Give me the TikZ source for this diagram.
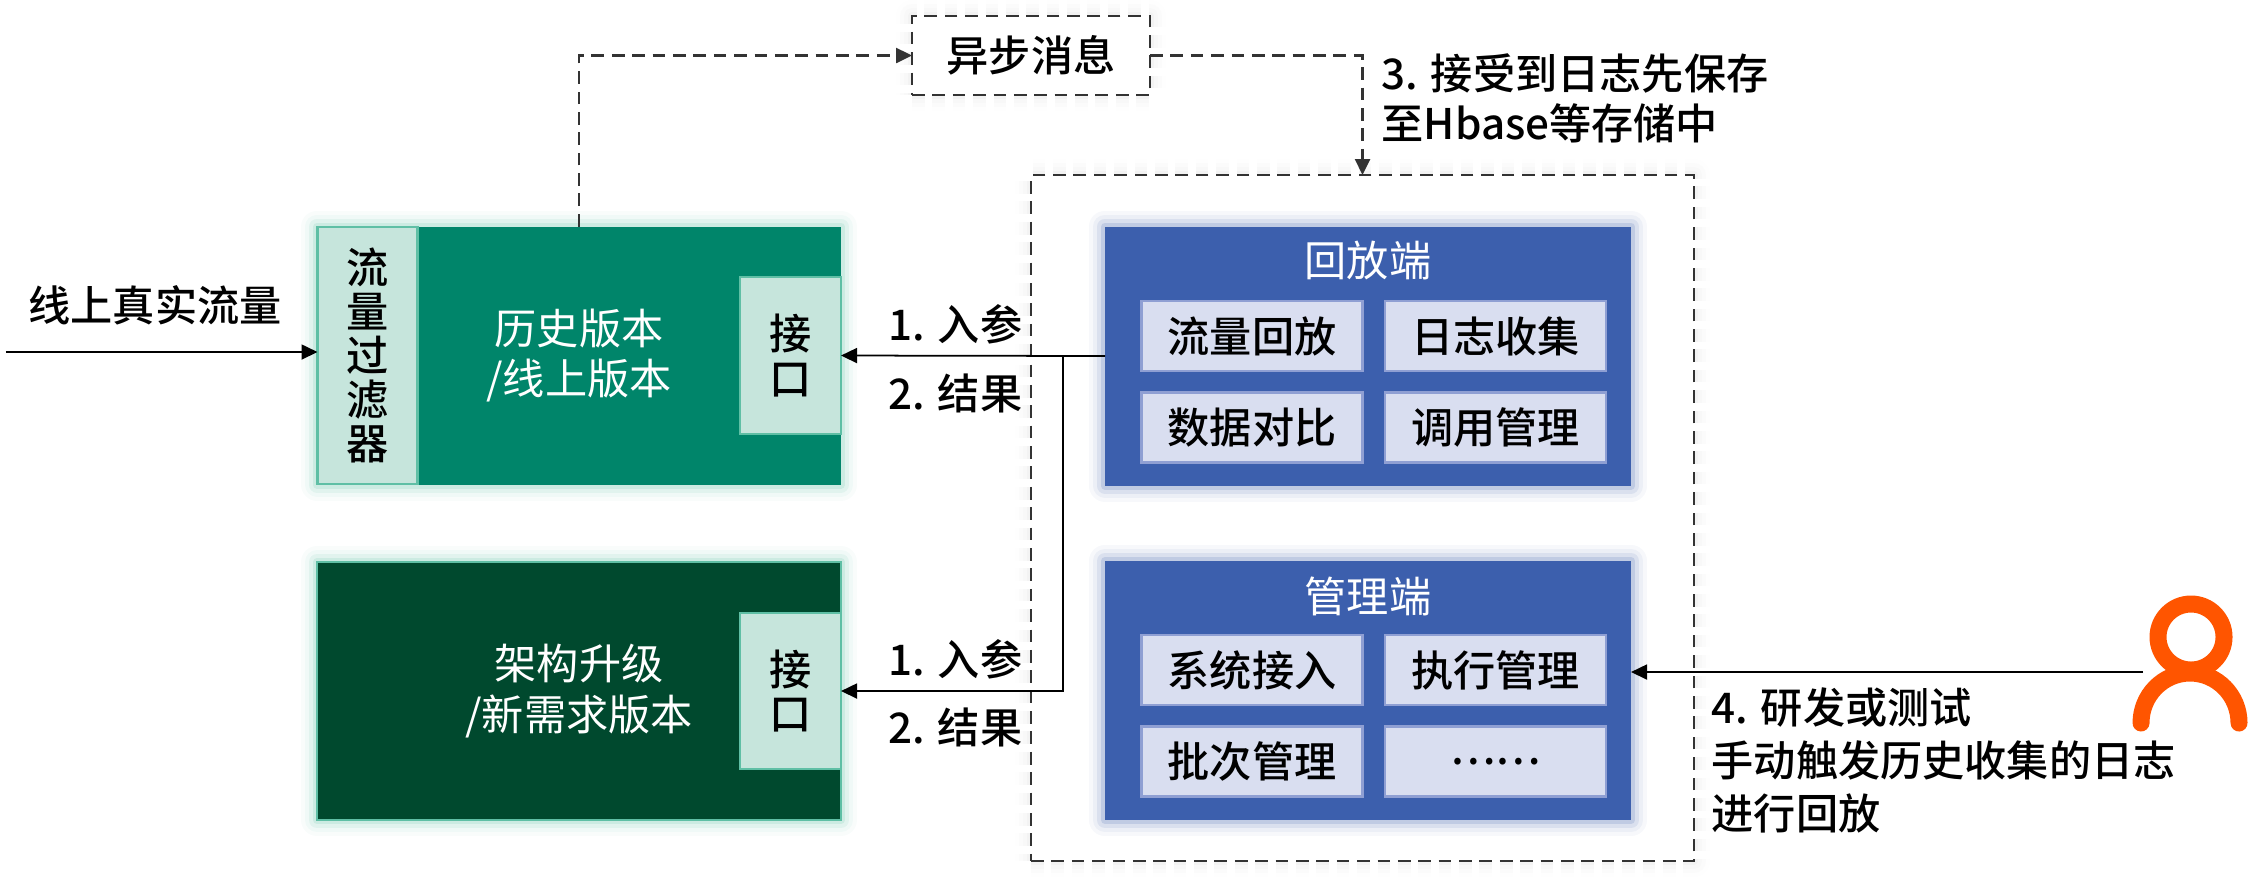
\documentclass[tikz,border=0pt]{standalone}
\usepackage{fontspec}
\setmainfont{Noto Sans CJK SC Medium}
\newfontfamily\whitefont{Noto Sans CJK SC}
\usetikzlibrary{positioning,arrows.meta}
\definecolor{oldgreen}{HTML}{00856A}
\definecolor{newgreen}{HTML}{00492E}
\definecolor{palegreen}{HTML}{C6E5DC}
\definecolor{edgegreen}{HTML}{5FBFA5}
\definecolor{sideblue}{HTML}{3C5FAD}
\definecolor{paleblue}{HTML}{D9DEF0}
\definecolor{edgeblue}{HTML}{8F9FD3}
\definecolor{userorange}{HTML}{FF5500}

\begin{document}
\begin{tikzpicture}[
  >={Triangle[length=1.6mm,width=1.5mm]},
  glow/.style={preaction={draw=#1, opacity=.04, line width=3.2mm, line join=round},
    preaction={draw=#1, opacity=.06, line width=2.4mm, line join=round},
    preaction={draw=#1, opacity=.10, line width=1.6mm, line join=round},
    preaction={draw=#1, opacity=.16, line width=0.8mm, line join=round}},
  txt/.style={font=\fontsize{12}{14.3}\selectfont, align=left, inner sep=0pt},
  ver/.style={inner sep=0pt, outer sep=0pt, minimum width=5.24cm, minimum height=2.58cm, align=center,
    text=white, font=\fontsize{12}{14.3}\selectfont\whitefont},
  pale/.style={draw=edgegreen, line width=0.6pt, fill=palegreen, inner sep=0pt, outer sep=0pt, align=center,
    font=\fontsize{12}{12.5}\selectfont},
  side/.style={fill=sideblue, glow=sideblue, inner sep=0pt, outer sep=0pt, minimum width=5.26cm, minimum height=2.59cm},
  cell/.style={draw=edgeblue, line width=0.6pt, fill=paleblue, inner sep=0pt, outer sep=0pt, minimum width=2.21cm,
    minimum height=0.70cm, font=\fontsize{12}{14.3}\selectfont},
  head/.style={text=white, inner sep=0pt, font=\fontsize{12}{14.3}\selectfont\whitefont},
  dashline/.style={dash pattern=on 3.6pt off 2.2pt, draw=black!80, line width=0.7pt},
  flow/.style={line width=0.5pt, draw=black}
]
\useasboundingbox (0,0) rectangle (22.67,-8.85);

% Outer frame and message box
\node[dashline, glow=gray!30, fill=white, minimum width=6.63cm, minimum height=6.86cm, inner sep=0pt, outer sep=0pt] (frame) at (13.625,-5.18) {};
\node[dashline, glow=gray!30, fill=white, minimum width=2.38cm, minimum height=0.79cm, outer sep=0pt, txt] (async) at (10.31,-0.555) {异步消息};

% Versions
\node[ver, fill=oldgreen, glow=edgegreen] (oldver) at (5.79,-3.555) {历史版本\\/线上版本};
\node[pale, minimum width=1.00cm, minimum height=2.57cm] (filter) at (3.675,-3.555) {流\\量\\过\\滤\\器};
\node[pale, minimum width=1.01cm, minimum height=1.57cm] (portold) at (7.905,-3.555) {接\\[0.3pt]口};

\node[ver, fill=newgreen, draw=edgegreen, line width=0.6pt, glow=edgegreen] (newver) at (5.79,-6.91) {架构升级\\/新需求版本};
\node[pale, minimum width=1.01cm, minimum height=1.56cm] (portnew) at (7.905,-6.91) {接\\[0.3pt]口};

% Replay side
\node[side] (replay) at (13.68,-3.56) {};
\node[head] (replaytitle) at (13.68,-2.60) {回放端};
\node[cell] (replayA) at (12.52,-3.36) {流量回放};
\node[cell] (replayB) at (14.955,-3.36) {日志收集};
\node[cell] (replayC) at (12.52,-4.275) {数据对比};
\node[cell] (replayD) at (14.955,-4.275) {调用管理};

% Admin side
\node[side] (admin) at (13.68,-6.905) {};
\node[head] (admintitle) at (13.68,-5.96) {管理端};
\node[cell] (adminA) at (12.52,-6.70) {系统接入};
\node[cell] (adminB) at (14.955,-6.70) {执行管理};
\node[cell] (adminC) at (12.52,-7.615) {批次管理};
\node[cell] (adminD) at (14.955,-7.615) {……};

% Free ends
\coordinate (inflow) at (0.06,-3.52);
\coordinate (branch) at (10.63,-3.56);
\coordinate (userend) at (21.43,-6.72);

% Connectors
\draw[flow, ->] (inflow) -- (filter.west |- inflow);
\draw[flow, ->] (replay.west) -- (portold.east);
\draw[flow, ->] (branch) |- (portnew.east);
\draw[flow, ->] (userend) -- (admin.east |- userend);
\draw[dashline, ->] (oldver.north) |- (async.west);
\draw[dashline, ->] (async.east) -| (frame.north);

% Labels
\node[txt] (inflowlab) at (1.55,-3.05) {线上真实流量};
\node[txt, anchor=west] (reqold) at (8.88,-3.24) {1. 入参};
\node[txt, anchor=west] (resold) at (8.88,-3.93) {2. 结果};
\node[txt, anchor=west] (reqnew) at (8.88,-6.59) {1. 入参};
\node[txt, anchor=west] (resnew) at (8.88,-7.27) {2. 结果};
\node[txt, anchor=north west] (storelab) at (13.81,-0.53) {3. 接受到日志先保存\\至Hbase等存储中};
\node[txt, anchor=north west, font=\fontsize{12}{15.1}\selectfont] (triggerlab) at (17.11,-6.87) {4. 研发或测试\\手动触发历史收集的日志\\进行回放};

% User icon
\draw[userorange, line width=1.7mm] (21.91,-6.37) circle (0.33);
\draw[userorange, line width=1.7mm, line cap=round] (21.41,-7.23) arc[start angle=180, end angle=0, x radius=0.49, y radius=0.50];
\end{tikzpicture}
\end{document}
